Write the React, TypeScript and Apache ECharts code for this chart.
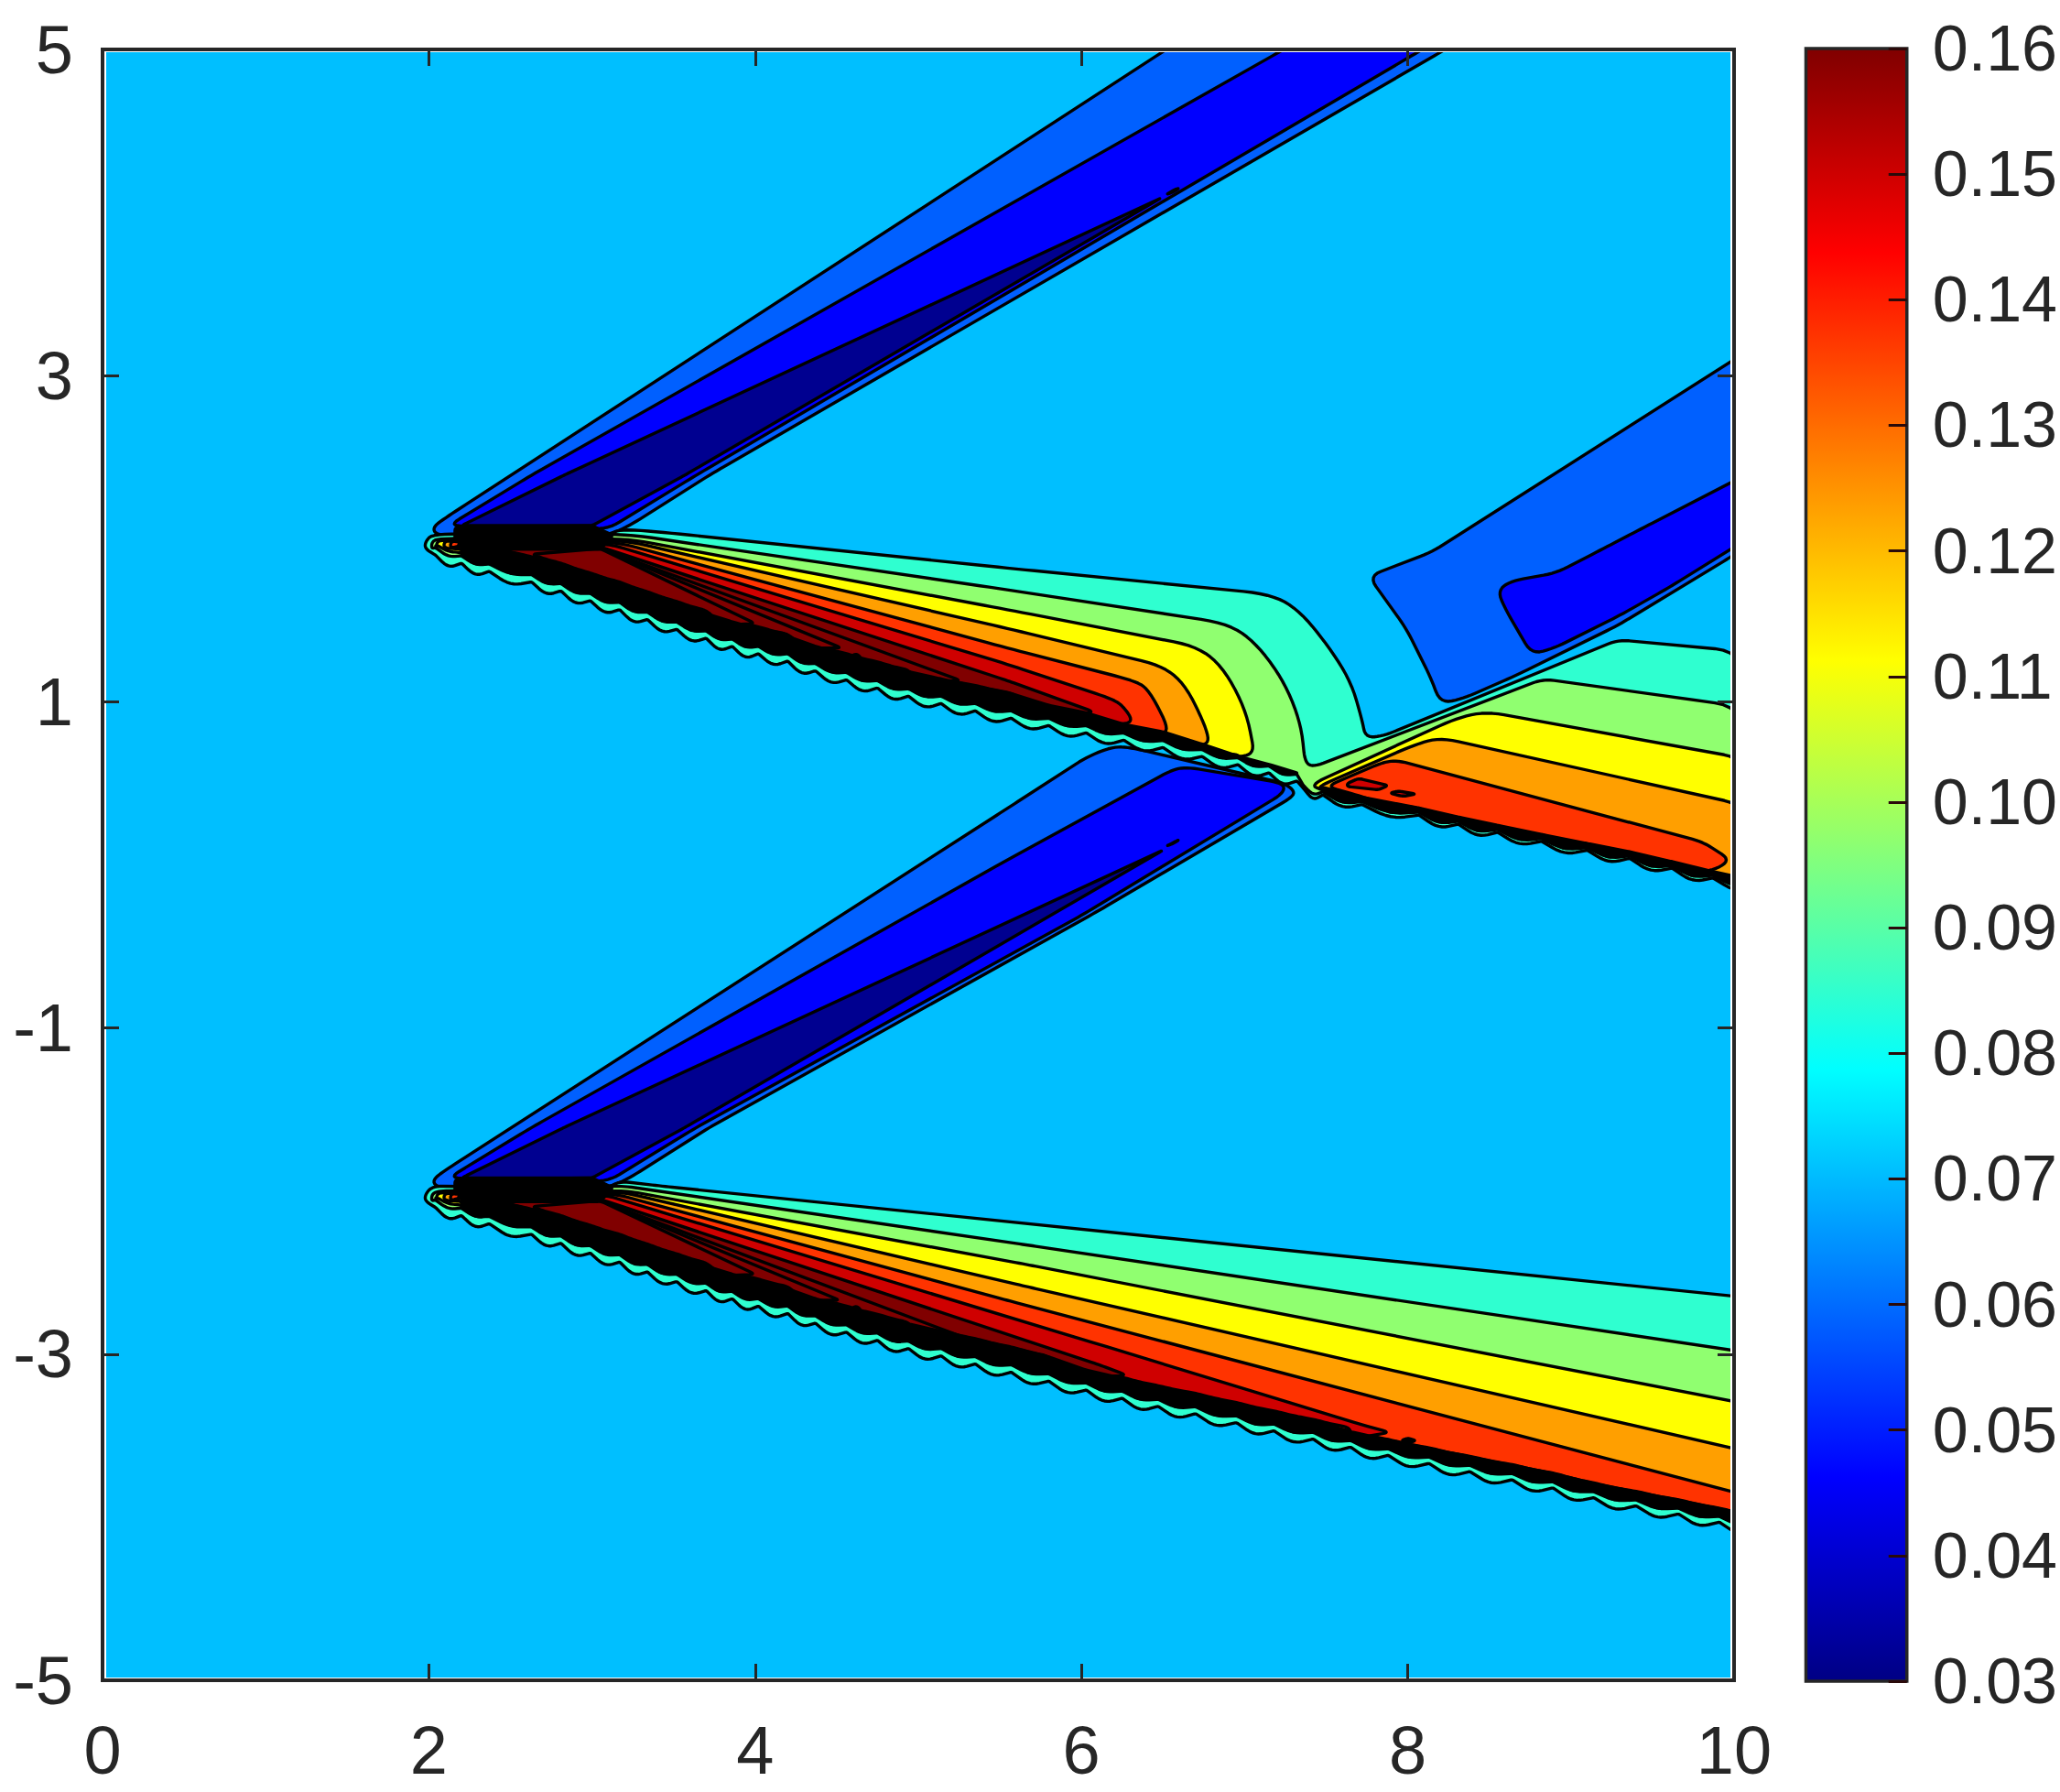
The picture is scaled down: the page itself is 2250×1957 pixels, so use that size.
import React, { useEffect, useRef } from "react";
import * as echarts from "echarts";

type P = number[];

const xTicks = [0, 2, 4, 6, 8, 10];
const yTicks = [-5, -3, -1, 1, 3, 5];
const colorbarExtent = [[0, 0.03], [1, 0.16]];
const domain = [[0, -5], [10, -5], [10, 5], [0, 5]];

// Contour-band fills
const BG = "#00bfff";
const LIGHT = "#0060ff";
const BLUE = "#0000ff";
const NAVY = "#000090";
const TEAL = "#2fffd0";
const GREEN = "#90ff70";
const YELLOW = "#ffff00";
const ORANGE = "#ff9f00";
const REDORANGE = "#ff3300";
const DARKRED = "#cf0000";
const MAROON = "#800000";

// Wavy outer edges of the three oblique bands (positions where neighbouring waves meet)
const upperEdge: P[] = [[2.04, 1.9], [2.2, 1.85], [2.37, 1.8], [2.63, 1.735], [2.81, 1.68], [2.99, 1.62], [3.17, 1.565], [3.34, 1.505], [3.52, 1.445], [3.7, 1.39], [3.86, 1.34], [4.02, 1.295], [4.2, 1.25], [4.37, 1.19], [4.56, 1.135], [4.75, 1.085], [4.94, 1.035], [5.14, 0.99], [5.35, 0.945], [5.57, 0.9], [5.8, 0.855], [6.03, 0.81], [6.26, 0.765], [6.5, 0.72], [6.74, 0.665], [6.96, 0.615], [7.15, 0.565], [7.32, 0.515]];
const lowerEdge: P[] = [[2.04, -2.1], [2.2, -2.15], [2.37, -2.2], [2.63, -2.265], [2.81, -2.32], [2.99, -2.38], [3.17, -2.435], [3.34, -2.495], [3.52, -2.555], [3.7, -2.61], [3.86, -2.66], [4.02, -2.705], [4.2, -2.75], [4.37, -2.81], [4.56, -2.865], [4.75, -2.915], [4.94, -2.965], [5.14, -3.01], [5.35, -3.06], [5.57, -3.11], [5.8, -3.165], [6.03, -3.22], [6.25, -3.27], [6.47, -3.32], [6.7, -3.365], [6.95, -3.42], [7.18, -3.47], [7.42, -3.52], [7.65, -3.57], [7.88, -3.62], [8.13, -3.67], [8.38, -3.72], [8.64, -3.77], [8.89, -3.82], [9.14, -3.88], [9.4, -3.93], [9.66, -3.98], [9.91, -4.03], [10.15, -4.08]];
const rightEdge: P[] = [[7.36, 0.47], [7.48, 0.43], [7.72, 0.37], [8.07, 0.305], [8.31, 0.25], [8.55, 0.2], [8.82, 0.145], [9.1, 0.09], [9.36, 0.04], [9.62, -0.02], [9.87, -0.08], [10.15, -0.14]];

// Distance of each nested contour above the wavy edge
const bandOffsets = [0, 0.045, 0.067, 0.089, 0.111, 0.133, 0.155, 0.16, 0.165, 0.17];
const rightOffsets = [0, 0.02, 0.03, 0.04, 0.055];
const apexX = [1.975, 2.015, 2.045, 2.09, 2.13, 2.18, 2.3];
// [x limit, top of the solid black run of contours below that x]
const upperBlack: P[] = [[5.7, 0.15], [6.15, 0.125], [6.55, 0.1], [6.96, 0.08], [7.4, 0.055]];
const lowerBlack: P[] = [[5.9, 0.15], [7.65, 0.125], [11, 0.105]];
const rightBlack: P[] = [[11, 0.05]];

// Upper band contours (third value 2: tighter corner)
const upperTeal: P[] = [[3.1, 2.02], [3.17, 2.06], [3.43, 2.04], [5.545, 1.82], [7.16, 1.66], [7.33, 1.565], [7.5, 1.36], [7.65, 1.13], [7.72, 0.89], [7.74, 0.78, 2], [7.85, 0.79, 2], [9.29, 1.38, 2], [10.05, 1.31]];
const upperGreen: P[] = [[3.2, 2.03], [5.545, 1.687], [6.9, 1.48], [7.07, 1.36], [7.24, 1.13], [7.345, 0.87], [7.37, 0.63, 2], [7.42, 0.6, 2], [8.83, 1.14, 2], [10.05, 0.97]];
const upperYellow: P[] = [[3.22, 2.0], [5.545, 1.565], [6.71, 1.34], [6.87, 1.21], [7.01, 0.946], [7.06, 0.684, 2], [6.96, 0.66, 2]];
const upperOrange: P[] = [[3.2, 1.99], [5.545, 1.45], [6.5, 1.22], [6.64, 1.1], [6.77, 0.83], [6.78, 0.73, 2], [6.55, 0.755, 2]];
const upperRedOrange: P[] = [[3.15, 1.98], [5.545, 1.33], [6.32, 1.13], [6.41, 1.08], [6.54, 0.83], [6.48, 0.8, 2], [6.15, 0.85, 2]];
const upperDarkRed: P[] = [[3.1, 1.97], [5.545, 1.23], [6.18, 1.02], [6.25, 0.98], [6.32, 0.88], [6.24, 0.86, 2], [5.86, 0.93, 2]];
const upperMaroon: P[] = [[3.05, 1.95], [5.545, 1.13], [6.08, 0.937], [5.98, 0.92], [5.7, 0.98]];
const upperTips: P[][] = [[[3.05, 1.94], [5.26, 1.13], [5.0, 1.12]], [[3.05, 1.94], [4.53, 1.33], [4.3, 1.33]], [[3.05, 1.94], [4.0, 1.48], [3.8, 1.47]]];
const upperDots: P[][] = [[[4.59, 1.28], [4.62, 1.295], [4.65, 1.27], [4.62, 1.26]]];

// Lower band contours
const lowerTeal: P[] = [[3.1, -1.98], [3.17, -1.94], [3.43, -1.97], [10.05, -2.65]];
const lowerGreen: P[] = [[3.2, -1.97], [5.66, -2.33], [10.05, -2.985]];
const lowerYellow: P[] = [[3.22, -2.0], [5.66, -2.45], [10.05, -3.3]];
const lowerOrange: P[] = [[3.2, -2.01], [5.66, -2.585], [10.05, -3.59]];
const lowerRedOrange: P[] = [[3.15, -2.02], [5.545, -2.67], [10.05, -3.86]];
const lowerDarkRed: P[] = [[3.1, -2.03], [6.107, -2.94], [7.71, -3.43], [7.89, -3.48], [7.65, -3.52]];
const lowerMaroon: P[] = [[3.05, -2.05], [6.107, -3.065], [6.28, -3.13], [6.1, -3.14], [5.9, -3.12]];
const lowerTips: P[][] = [[[3.05, -2.06], [5.26, -2.89], [5.0, -2.89]], [[3.05, -2.06], [4.52, -2.67], [4.3, -2.67]], [[3.05, -2.06], [4.0, -2.51], [3.8, -2.52]]];
const lowerDots: P[][] = [[[7.96, -3.53], [8.0, -3.515], [8.05, -3.53], [8.0, -3.545]], [[4.59, -2.72], [4.62, -2.705], [4.65, -2.73], [4.62, -2.74]]];

// Right band contours
const rightYellow: P[] = [[7.4, 0.49], [8.3, 0.9], [8.48, 0.94], [10.05, 0.655]];
const rightOrange: P[] = [[7.45, 0.48], [8.05, 0.74], [8.2, 0.78], [10.05, 0.37]];
const rightRedOrange: P[] = [[7.5, 0.48], [7.85, 0.63], [7.94, 0.64], [9.81, 0.14], [9.98, 0.03]];
const rightIslands: P[][] = [[[7.63, 0.5], [7.7, 0.53], [7.88, 0.487], [7.82, 0.46], [7.63, 0.48]], [[7.89, 0.44], [7.94, 0.453], [8.05, 0.434], [7.97, 0.42]]];

// Blue wedges
const topLight: P[] = [[2.02, 2.07], [2.12, 2.14], [6.52, 5.0], [6.67, 5.1], [8.38, 5.1], [8.23, 5.0], [3.72, 2.39], [3.23, 2.08], [3.1, 2.02], [2.05, 2.02]];
const topBlue: P[] = [[2.12, 2.08], [2.63, 2.39], [7.24, 5.0], [7.41, 5.1], [8.26, 5.1], [8.09, 5.0], [3.64, 2.39], [3.1, 2.06]];
const topNavy: P[] = [[2.2, 2.08], [2.83, 2.39], [6.49, 4.09], [3.57, 2.39], [3.0, 2.08]];
const topDot: P[] = [[6.52, 4.11], [6.57, 4.14], [6.6, 4.15], [6.56, 4.125]];
const midLight: P[] = [[2.02, -1.93], [2.12, -1.86], [5.545, 0.346], [6.03, 0.66], [6.19, 0.725], [6.3, 0.72], [7.24, 0.5], [7.3, 0.46], [7.3, 0.42], [6.09, -0.29], [3.72, -1.61], [3.23, -1.92], [3.1, -1.98], [2.05, -1.98]];
const midBlue: P[] = [[2.12, -1.92], [2.63, -1.61], [5.545, 0.03], [6.55, 0.58], [6.64, 0.6], [7.24, 0.5], [7.24, 0.44], [6.0, -0.31], [3.64, -1.61], [3.1, -1.94]];
const midNavy: P[] = [[2.2, -1.92], [2.83, -1.61], [6.5, 0.09], [3.57, -1.61], [3.0, -1.92]];
const midDot: P[] = [[6.52, 0.115], [6.57, 0.14], [6.6, 0.155], [6.56, 0.13]];
const cornerLight: P[] = [[7.76, 1.77], [8.15, 1.92], [10.05, 3.13], [10.05, 1.95], [10, 1.9], [9.29, 1.47], [8.66, 1.16], [8.34, 1.02], [8.2, 0.99], [8.14, 1.15], [7.99, 1.45]];
const cornerBlue: P[] = [[8.55, 1.68], [8.63, 1.74], [8.91, 1.79], [9.2, 1.94], [9.43, 2.06], [10.05, 2.38], [10.05, 1.98], [9.6, 1.7], [9.3, 1.53], [8.9, 1.33], [8.76, 1.29], [8.6, 1.565]];

// Solid black strips where the contours pile up
const upperStrip: P[] = [[2.16, 2.07], [3.0, 2.08], [3.13, 2.02], [3.05, 1.935], [2.32, 1.935], [2.16, 1.99]];
const lowerStrip: P[] = [[2.16, -1.93], [3.0, -1.92], [3.13, -1.98], [3.05, -2.065], [2.32, -2.065], [2.16, -2.01]];

function thin(x: number) {
  return x < 5.5 ? 1 : 1 - (x - 5.5) * 0.05;
}

function wave(edge: P[], d: number, xMin: number, xMax: number): P[] {
  const out: P[] = [];
  const bulge = d === 0 ? 0.055 : Math.max(0.004, 0.05 - d * 0.4);
  for (let i = edge.length - 1; i >= 0; i--) {
    const a = edge[i];
    if (a[0] > xMax || a[0] < xMin) continue;
    out.push(d < 0.05 ? [a[0], a[1] + d * thin(a[0]), 1] : [a[0], a[1] + d * thin(a[0])]);
    const b = edge[i - 1];
    if (b && b[0] >= xMin) {
      const mx = (a[0] + b[0]) / 2;
      out.push([mx, (a[1] + b[1]) / 2 + d * thin(mx) - bulge]);
    }
  }
  return out;
}

// The run of contours so dense that it reads as solid black along a band
function blackRun(edge: P[], tops: P[], low: number, xMin: number, xMax: number): P[] {
  const top: P[] = edge
    .filter((p) => p[0] >= xMin && p[0] <= xMax)
    .map((p) => {
      const lim = tops.find((t) => p[0] < t[0]) || tops[tops.length - 1];
      return [p[0], p[1] + lim[1] * thin(p[0])];
    });
  return top.concat(wave(edge, low, xMin, xMax));
}

function apex(x: number, base: number, from: number): P[] {
  return [[x, base - 0.06], [x + 0.006, base - 0.015], [x + 0.05, base - from]];
}

function chain(colour: string, r: number, ...runs: P[][]): { fill: string; pts: P[]; r: number } {
  return { fill: colour, r, pts: ([] as P[]).concat(...runs) };
}

// Rounds polygon corners in pixel space, leaving long straight runs straight
function rounded(pts: P[], kinds: (number | undefined)[], r: number): number[][] {
  const n = pts.length;
  const out: number[][] = [];
  for (let i = 0; i < n; i++) {
    const v = pts[i];
    const p = pts[(i + n - 1) % n];
    const q = pts[(i + 1) % n];
    const d1 = Math.hypot(p[0] - v[0], p[1] - v[1]) || 1;
    const d2 = Math.hypot(q[0] - v[0], q[1] - v[1]) || 1;
    const rr = kinds[i] === 1 ? 1.5 : kinds[i] === 2 ? Math.min(r, 12) : r;
    const c1 = Math.min(rr, d1 / 2);
    const c2 = Math.min(rr, d2 / 2);
    const a = [v[0] + ((p[0] - v[0]) * c1) / d1, v[1] + ((p[1] - v[1]) * c1) / d1];
    const b = [v[0] + ((q[0] - v[0]) * c2) / d2, v[1] + ((q[1] - v[1]) * c2) / d2];
    for (let k = 0; k <= 6; k++) {
      const t = k / 6;
      const u = 1 - t;
      out.push([
        u * u * a[0] + 2 * u * t * v[0] + t * t * b[0],
        u * u * a[1] + 2 * u * t * v[1] + t * t * b[1],
      ]);
    }
  }
  return out;
}

function buildLayers() {
  const L: { fill: string; pts: P[]; noStroke?: boolean; r?: number }[] = [];
  L.push({ fill: BG, pts: domain, noStroke: true, r: 0 });
  [topLight, topBlue, topNavy, midLight, midBlue, midNavy, cornerLight, cornerBlue].forEach((pts, i) => {
    L.push({ fill: [LIGHT, BLUE, NAVY, LIGHT, BLUE, NAVY, LIGHT, BLUE][i], pts, r: i === 2 || i === 5 ? 4 : 14 });
  });
  L.push({ fill: "#000", pts: topDot, r: 3 });
  L.push({ fill: "#000", pts: midDot, r: 3 });

  const o = bandOffsets;
  // Upper band, which joins the right band through the neck
  L.push(chain(TEAL, 30, apex(apexX[0], 2, -0.03), upperTeal, wave(rightEdge, o[0], 7.3, 11), wave(upperEdge, o[0], 0, 8)));
  L.push(chain(GREEN, 30, apex(apexX[1], 2, 0), upperGreen, wave(rightEdge, rightOffsets[1], 7.3, 11), wave(upperEdge, o[1], 0, 8)));
  L.push(chain(YELLOW, 26, apex(apexX[2], 2, 0.01), upperYellow, wave(upperEdge, o[2], 0, 6.96)));
  L.push(chain(ORANGE, 24, apex(apexX[3], 2, 0.015), upperOrange, wave(upperEdge, o[3], 2.09, 6.55)));
  L.push(chain(REDORANGE, 22, apex(apexX[4], 2, 0.02), upperRedOrange, wave(upperEdge, o[4], 2.13, 6.15)));
  L.push(chain(DARKRED, 18, apex(apexX[5], 2, 0.03), upperDarkRed, wave(upperEdge, o[5], 2.18, 5.86)));
  L.push(chain(MAROON, 8, apex(apexX[6], 2, 0.05), upperMaroon, wave(upperEdge, o[6], 2.3, 5.7)));
  upperTips.forEach((t, i) => L.push(chain(MAROON, 6, t, wave(upperEdge, o[7 + i], 2.5, t[2][0]))));
  L.push({ fill: "#000", r: 3, pts: blackRun(upperEdge, upperBlack, 0.05, 2.2, 7.32) });
  upperDots.forEach((d) => L.push({ fill: "#000", pts: d, r: 3 }));

  // Right band
  L.push(chain(YELLOW, 20, rightYellow, wave(rightEdge, rightOffsets[2], 7.4, 11)));
  L.push(chain(ORANGE, 20, rightOrange, wave(rightEdge, rightOffsets[3], 7.45, 11)));
  L.push(chain(REDORANGE, 12, rightRedOrange, wave(rightEdge, rightOffsets[4], 7.5, 9.98)));
  L.push({ fill: "#000", r: 3, pts: blackRun(rightEdge, rightBlack, 0.026, 7.48, 10.15) });
  rightIslands.forEach((d) => L.push({ fill: DARKRED, pts: d, r: 4 }));

  // Lower band
  L.push(chain(TEAL, 11, apex(apexX[0], -2, -0.03), lowerTeal, wave(lowerEdge, o[0], 0, 11)));
  L.push(chain(GREEN, 11, apex(apexX[1], -2, 0), lowerGreen, wave(lowerEdge, o[1], 0, 11)));
  L.push(chain(YELLOW, 11, apex(apexX[2], -2, 0.01), lowerYellow, wave(lowerEdge, o[2], 0, 11)));
  L.push(chain(ORANGE, 11, apex(apexX[3], -2, 0.015), lowerOrange, wave(lowerEdge, o[3], 2.09, 11)));
  L.push(chain(REDORANGE, 11, apex(apexX[4], -2, 0.02), lowerRedOrange, wave(lowerEdge, o[4], 2.13, 11)));
  L.push(chain(DARKRED, 8, apex(apexX[5], -2, 0.03), lowerDarkRed, wave(lowerEdge, o[5], 2.18, 7.65)));
  L.push(chain(MAROON, 8, apex(apexX[6], -2, 0.05), lowerMaroon, wave(lowerEdge, o[6], 2.3, 5.9)));
  lowerTips.forEach((t, i) => L.push(chain(MAROON, 6, t, wave(lowerEdge, o[7 + i], 2.5, t[2][0]))));
  L.push({ fill: "#000", r: 3, pts: blackRun(lowerEdge, lowerBlack, 0.05, 2.2, 10.15) });
  lowerDots.forEach((d) => L.push({ fill: "#000", pts: d, r: 3 }));

  L.push({ fill: "#000", pts: upperStrip, r: 4 });
  L.push({ fill: "#000", pts: lowerStrip, r: 4 });
  return L;
}

const TEXT = "#262626";
const FONT = "'Liberation Sans', Arial, sans-serif";

export default function App() {
  const ref = useRef<HTMLDivElement>(null);
  useEffect(() => {
    if (!ref.current) return;
    const chart = echarts.init(ref.current, undefined, { renderer: "svg" });
    const layers = buildLayers();
    const hiddenAxis = { show: false };
    const line = { show: false, onZero: false };
    const mainX = {
      type: "value", gridIndex: 0, min: 0, max: 10, interval: 2, z: 10,
      axisLine: line, splitLine: { show: false },
      axisTick: { inside: true, length: 18, lineStyle: { color: TEXT, width: 3 } },
    };
    const mainY = {
      type: "value", gridIndex: 0, min: -5, max: 5, z: 10,
      axisLine: line, splitLine: { show: false },
      axisTick: { inside: true, length: 18, customValues: yTicks, lineStyle: { color: TEXT, width: 3 } },
    };
    chart.setOption({
      animation: false,
      backgroundColor: "#fff",
      grid: [
        { left: 112, top: 54, width: 1782, height: 1781, show: true, borderColor: TEXT, borderWidth: 4, backgroundColor: "#fff" },
        { left: 1972.5, top: 53, width: 111, height: 1783 },
      ],
      xAxis: [
        { ...mainX, position: "bottom", axisLabel: { color: TEXT, fontSize: 74, fontFamily: FONT, margin: 39, customValues: xTicks, hideOverlap: false } },
        { ...mainX, position: "top", axisLabel: { show: false } },
        { type: "value", gridIndex: 1, min: 0, max: 1, ...hiddenAxis },
      ],
      yAxis: [
        { ...mainY, position: "left", axisLabel: { color: TEXT, fontSize: 74, fontFamily: FONT, margin: 32, customValues: yTicks, hideOverlap: false } },
        { ...mainY, position: "right", axisLabel: { show: false } },
        {
          type: "value", gridIndex: 1, min: 0.03, max: 0.16, interval: 0.01, position: "right", z: 10,
          axisLine: line, splitLine: { show: false },
          axisTick: { inside: true, length: 20, lineStyle: { color: "#2a0a0a", width: 3 } },
          axisLabel: { color: TEXT, fontSize: 70, fontFamily: FONT, margin: 28, formatter: (v: number) => v.toFixed(2), hideOverlap: false },
        },
      ],
      series: [
        {
          type: "custom", xAxisIndex: 0, yAxisIndex: 0, clip: false, silent: true,
          data: layers.map((l) => l.pts[0].slice(0, 2)),
          encode: { x: 0, y: 1 },
          renderItem: (params: any, api: any) => {
            const layer = layers[params.dataIndex];
            const cs = params.coordSys;
            const px = layer.pts.map((p) => api.coord([p[0], p[1]]));
            const kinds = layer.pts.map((p) => p[2]);
            const r = layer.r === undefined ? 11 : layer.r;
            return {
              type: "polygon",
              shape: { points: r > 0 ? rounded(px, kinds, r) : px },
              clipPath: { type: "rect", shape: { x: cs.x + 4, y: cs.y + 3, width: cs.width - 8, height: cs.height - 6 } },
              style: {
                fill: layer.fill,
                stroke: layer.noStroke ? "none" : "#000",
                lineWidth: 3.4,
                lineJoin: "round",
              },
            };
          },
        },
        {
          type: "custom", xAxisIndex: 2, yAxisIndex: 2, silent: true,
          data: colorbarExtent,
          encode: { x: 0, y: 1 },
          renderItem: (params: any, api: any) => {
            if (params.dataIndex !== 0) return null;
            const a = api.coord(colorbarExtent[0]);
            const b = api.coord(colorbarExtent[1]);
            return {
              type: "rect",
              shape: { x: a[0], y: b[1], width: b[0] - a[0], height: a[1] - b[1] },
              style: {
                fill: new echarts.graphic.LinearGradient(0, 1, 0, 0, [
                  { offset: 0, color: "#000084" },
                  { offset: 0.125, color: "#0000ff" },
                  { offset: 0.375, color: "#00ffff" },
                  { offset: 0.625, color: "#ffff00" },
                  { offset: 0.875, color: "#ff0000" },
                  { offset: 1, color: "#800000" },
                ]),
                stroke: TEXT,
                lineWidth: 3.5,
              },
            };
          },
        },
      ],
    });
    return () => chart.dispose();
  }, []);
  return <div ref={ref} style={{ position: "fixed", left: 0, top: 0, width: 2250, height: 1957 }} />;
}
